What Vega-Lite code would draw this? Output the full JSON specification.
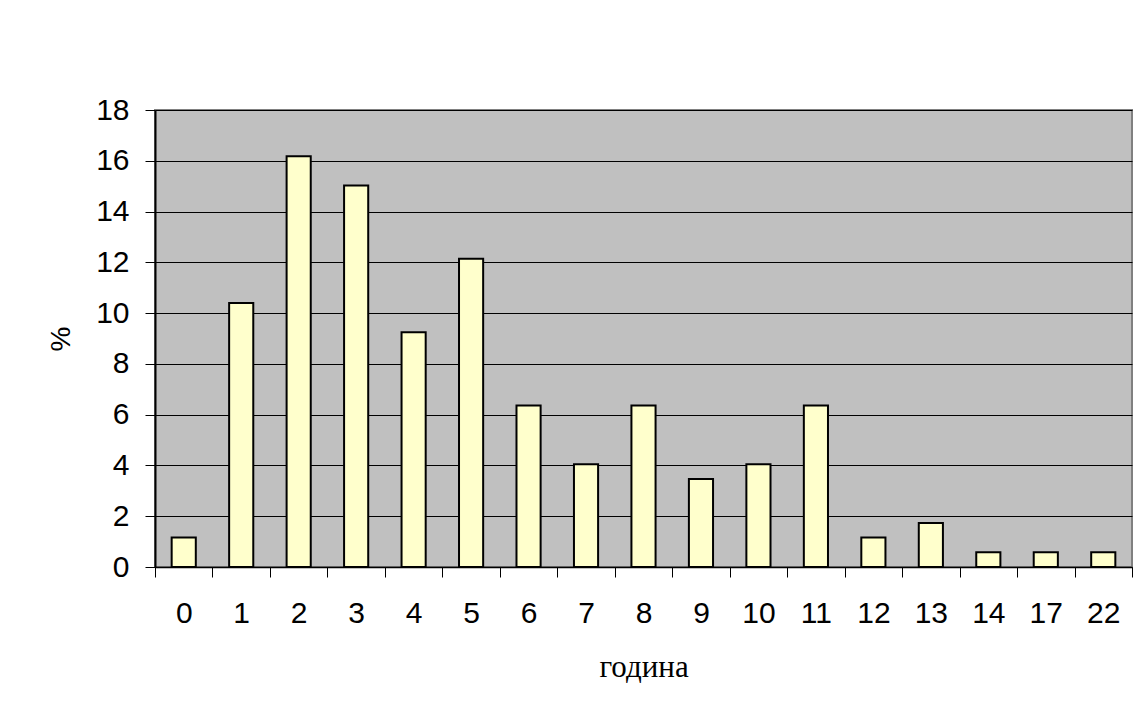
{
  "$schema": "https://vega.github.io/schema/vega-lite/v6.json",
  "width": 977,
  "height": 457,
  "autosize": {"type": "none"},
  "padding": {"left": 155, "top": 110, "right": 7, "bottom": 145},
  "background": "white",
  "data": {
    "values": [
      {"year": "0", "pct": 1.16},
      {"year": "1", "pct": 10.40},
      {"year": "2", "pct": 16.18},
      {"year": "3", "pct": 15.03},
      {"year": "4", "pct": 9.25},
      {"year": "5", "pct": 12.14},
      {"year": "6", "pct": 6.36},
      {"year": "7", "pct": 4.05},
      {"year": "8", "pct": 6.36},
      {"year": "9", "pct": 3.47},
      {"year": "10", "pct": 4.05},
      {"year": "11", "pct": 6.36},
      {"year": "12", "pct": 1.16},
      {"year": "13", "pct": 1.73},
      {"year": "14", "pct": 0.58},
      {"year": "17", "pct": 0.58},
      {"year": "22", "pct": 0.58}
    ]
  },
  "mark": {"type": "bar", "fill": "#FFFFCC", "stroke": "#000000", "strokeWidth": 2, "width": {"band": 0.42}},
  "encoding": {
    "x": {
      "field": "year",
      "type": "ordinal",
      "sort": null,
      "scale": {"paddingInner": 0, "paddingOuter": 0},
      "axis": {
        "title": "година",
        "titleFont": "Liberation Serif",
        "titleFontSize": 31,
        "titleFontWeight": "normal",
        "titleColor": "#000000",
        "titlePadding": 24,
        "labelAngle": 0,
        "labelFont": "Liberation Sans",
        "labelFontSize": 30,
        "labelColor": "#000000",
        "labelPadding": 21,
        "tickBand": "extent",
        "tickSize": 10,
        "tickColor": "#000000",
        "tickWidth": 1,
        "domainColor": "#000000",
        "domainWidth": 1.5,
        "grid": false
      }
    },
    "y": {
      "field": "pct",
      "type": "quantitative",
      "scale": {"domain": [0, 18], "nice": false},
      "axis": {
        "title": "%",
        "titleFont": "Liberation Sans",
        "titleFontSize": 28,
        "titleFontWeight": "normal",
        "titleColor": "#000000",
        "titlePadding": 20,
        "values": [0, 2, 4, 6, 8, 10, 12, 14, 16, 18],
        "labelFont": "Liberation Sans",
        "labelFontSize": 30,
        "labelColor": "#000000",
        "labelPadding": 16,
        "tickSize": 10,
        "tickColor": "#000000",
        "tickWidth": 1,
        "domainColor": "#000000",
        "domainWidth": 2,
        "grid": true,
        "gridColor": "#000000",
        "gridWidth": 1
      }
    }
  },
  "config": {
    "view": {"fill": "#C0C0C0", "stroke": "#808080", "strokeWidth": 2},
    "axis": {"labelOverlap": false}
  }
}
